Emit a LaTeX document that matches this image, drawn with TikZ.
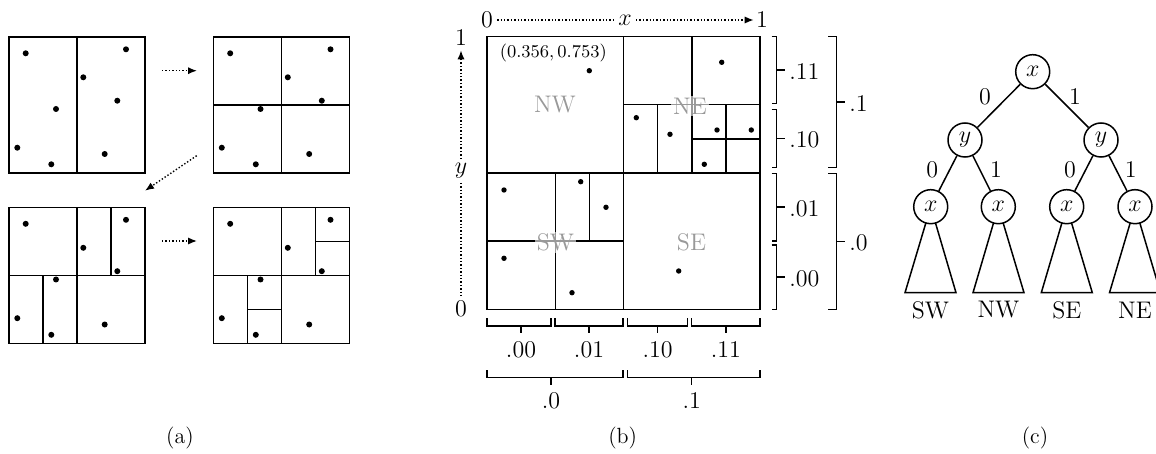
\documentclass[tikz,border=0pt]{standalone}
\usepackage{fontspec}
\usetikzlibrary{arrows.meta}
\begin{document}
\begin{tikzpicture}[x=0.5pt,y=-0.5pt,
  font=\fontsize{12}{14}\selectfont,
  ln/.style={line width=0.75pt},
  dotl/.style={densely dotted,line width=0.7pt},
  darr/.style={dotl,-{Latex[length=4.5pt,width=3.6pt]}},
  glabel/.style={text=gray!80,fill=white,fill opacity=0.6,text opacity=1,inner sep=1pt},
  axl/.style={inner sep=2pt},
  circ/.style={circle,draw,ln,fill=white,minimum size=17pt,inner sep=0pt},
  captxt/.style={font=\fontsize{11}{13}\selectfont},
  smalltxt/.style={font=\fontsize{9}{11}\selectfont}]
\useasboundingbox (0,0) rectangle (1156,454);

% ---------------- panel (a) ----------------
\foreach \ox/\oy in {9/37, 213.5/37, 9/207.5, 213.5/207.5} {
  \draw[ln] (\ox,\oy) rectangle ++(136,136);
  \foreach \dx/\dy in {16.7/16.3, 117/12.3, 74.3/40.3, 47/72, 108.3/63.7, 8.3/110.7, 42.3/127.3, 95.7/117}
    \fill (\ox+\dx,\oy+\dy) circle (1.5pt);
}
% square 1
\draw[ln] (77,37) -- (77,173);
% square 2
\draw[ln] (281.5,37) -- (281.5,173);
\draw[ln] (213.5,105) -- (349.5,105);
% square 3
\draw[ln] (77,207.5) -- (77,343.5);
\draw[ln] (9,275.5) -- (145,275.5);
\draw[ln] (111,207.5) -- (111,275.5);
\draw[ln] (43,275.5) -- (43,343.5);
% square 4
\draw[ln] (281.5,207.5) -- (281.5,343.5);
\draw[ln] (213.5,275.5) -- (349.5,275.5);
\draw[ln] (315.5,207.5) -- (315.5,275.5);
\draw[ln] (315.5,241.5) -- (349.5,241.5);
\draw[ln] (247.5,275.5) -- (247.5,343.5);
\draw[ln] (247.5,309.5) -- (281.5,309.5);
% arrows
\coordinate (a1) at (162,70.7);
\coordinate (a2) at (197,70.7);
\coordinate (d1) at (196.7,155.7);
\coordinate (d2) at (145,190.7);
\coordinate (b1) at (162,241);
\coordinate (b2) at (197,241);
\draw[darr] (a1) -- (a2);
\draw[darr] (d1) -- (d2);
\draw[darr] (b1) -- (b2);
\node[captxt] (capa) at (180,438) {(a)};

% ---------------- panel (b) ----------------
\draw[ln] (487,36.5) rectangle (760,309.5);
\draw[ln] (623.5,36.5) -- (623.5,309.5);
\draw[ln] (487,173) -- (760,173);
\draw[ln] (623.5,104.75) -- (760,104.75);
\draw[ln] (691.75,36.5) -- (691.75,173);
\draw[ln] (657.6,104.75) -- (657.6,173);
\draw[ln] (725.9,104.75) -- (725.9,173);
\draw[ln] (691.75,138.9) -- (760,138.9);
\draw[ln] (555.25,173) -- (555.25,309.5);
\draw[ln] (487,241.25) -- (623.5,241.25);
\draw[ln] (589.4,173) -- (589.4,241.25);
\foreach \px/\py in {589.3/70.7, 721.7/62.3, 636.3/117.7, 670/134.3, 717/130, 751.3/130, 704.3/164.3,
  504/190, 580.7/181.7, 606/207.3, 504/258.3, 572/292.7, 678.7/271}
  \fill (\px,\py) circle (1.35pt);
\node[smalltxt] (pt) at (553.3,53.5) {$(0.356, 0.753)$};
\node[glabel] (nw) at (555,105) {NW};
\node[glabel] (ne) at (690,106) {NE};
\node[glabel] (sw) at (555.5,242.5) {SW};
\node[glabel] (se) at (691.5,242.5) {SE};
% axes
\node[axl] (ax0) at (487,20) {0};
\node[axl] (axx) at (625,20) {$x$};
\node[axl,inner sep=1pt] (ax1) at (762,20) {1};
\draw[dotl] (ax0) -- (axx);
\draw[darr] (axx) -- (ax1);
\node[axl] (ay1) at (461,38) {1};
\node[axl] (ayy) at (461,171) {$y$};
\node[axl] (ay0) at (461,309) {0};
\draw[darr] (ayy) -- (ay1);
\draw[dotl] (ayy) -- (ay0);
% bottom brackets, level 1
\foreach \a/\b/\c/\t in {487/551/521/.00, 555/623/589/.01, 627.7/687.7/657.7/.10, 691.7/760/725.8/.11} {
  \draw[ln] (\a,318.3) -- (\a,326) -- (\b,326) -- (\b,318.3);
  \draw[ln] (\c,326) -- (\c,333.3);
  \node at (\c,350) {\t};
}
% bottom brackets, level 2
\foreach \a/\b/\c/\t in {487/623/551/.0, 627.7/760/691.7/.1} {
  \draw[ln] (\a,370) -- (\a,377.7) -- (\b,377.7) -- (\b,370);
  \draw[ln] (\c,377.7) -- (\c,385);
  \node at (\c,401) {\t};
}
% right brackets, level 1
\foreach \a/\b/\t in {36.7/103.3/.11, 109.3/167.7/.10, 173.3/241/.01, 245/309.3/.00} {
  \draw[ln] (771.7,\a) -- (776.7,\a) -- (776.7,\b) -- (771.7,\b);
  \draw[ln] (776.7,{(\a+\b)/2}) -- (785,{(\a+\b)/2});
  \node[anchor=west,inner sep=0pt] at (789,{(\a+\b)/2+1.5}) {\t};
}
% right brackets, level 2
\foreach \a/\b/\t in {36.7/167.7/.1, 173.3/309.3/.0} {
  \draw[ln] (828.3,\a) -- (836.7,\a) -- (836.7,\b) -- (828.3,\b);
  \draw[ln] (836.7,{(\a+\b)/2}) -- (845,{(\a+\b)/2});
  \node[anchor=west,inner sep=0pt] at (849,{(\a+\b)/2+1.5}) {\t};
}
\node[captxt] (capb) at (622.7,438) {(b)};

% ---------------- panel (c) ----------------
\coordinate (p1) at (930.7,206.7);
\coordinate (p2) at (998.3,206.7);
\coordinate (p3) at (1066.7,206.7);
\coordinate (p4) at (1135,206.7);
\foreach \i/\cx in {1/930.5, 2/998.5, 3/1066.8, 4/1135} {
  \draw[ln,line join=miter] (p\i) -- (\cx-25.5,292.7) -- (\cx+25.5,292.7) -- cycle;
}
\node[circ] (r) at (1032.7,71.7) {$x$};
\node[circ] (yl) at (965,140) {$y$};
\node[circ] (yr) at (1101,140) {$y$};
\node[circ] (x1) at (p1) {$x$};
\node[circ] (x2) at (p2) {$x$};
\node[circ] (x3) at (p3) {$x$};
\node[circ] (x4) at (p4) {$x$};
\draw[ln] (r) -- (yl);
\draw[ln] (r) -- (yr);
\draw[ln] (yl) -- (x1);
\draw[ln] (yl) -- (x2);
\draw[ln] (yr) -- (x3);
\draw[ln] (yr) -- (x4);
\node (e1) at (985,97) {0};
\node (e2) at (1075,97) {1};
\node (e3) at (932.3,170) {0};
\node (e4) at (996,170) {1};
\node (e5) at (1070,170) {0};
\node (e6) at (1130.7,170) {1};
\node (lsw) at (930.5,310) {SW};
\node (lnw) at (998.5,310) {NW};
\node (lse) at (1066.8,310) {SE};
\node (lne) at (1135,310) {NE};
\node[captxt] (capc) at (1035,438) {(c)};
\end{tikzpicture}
\end{document}
